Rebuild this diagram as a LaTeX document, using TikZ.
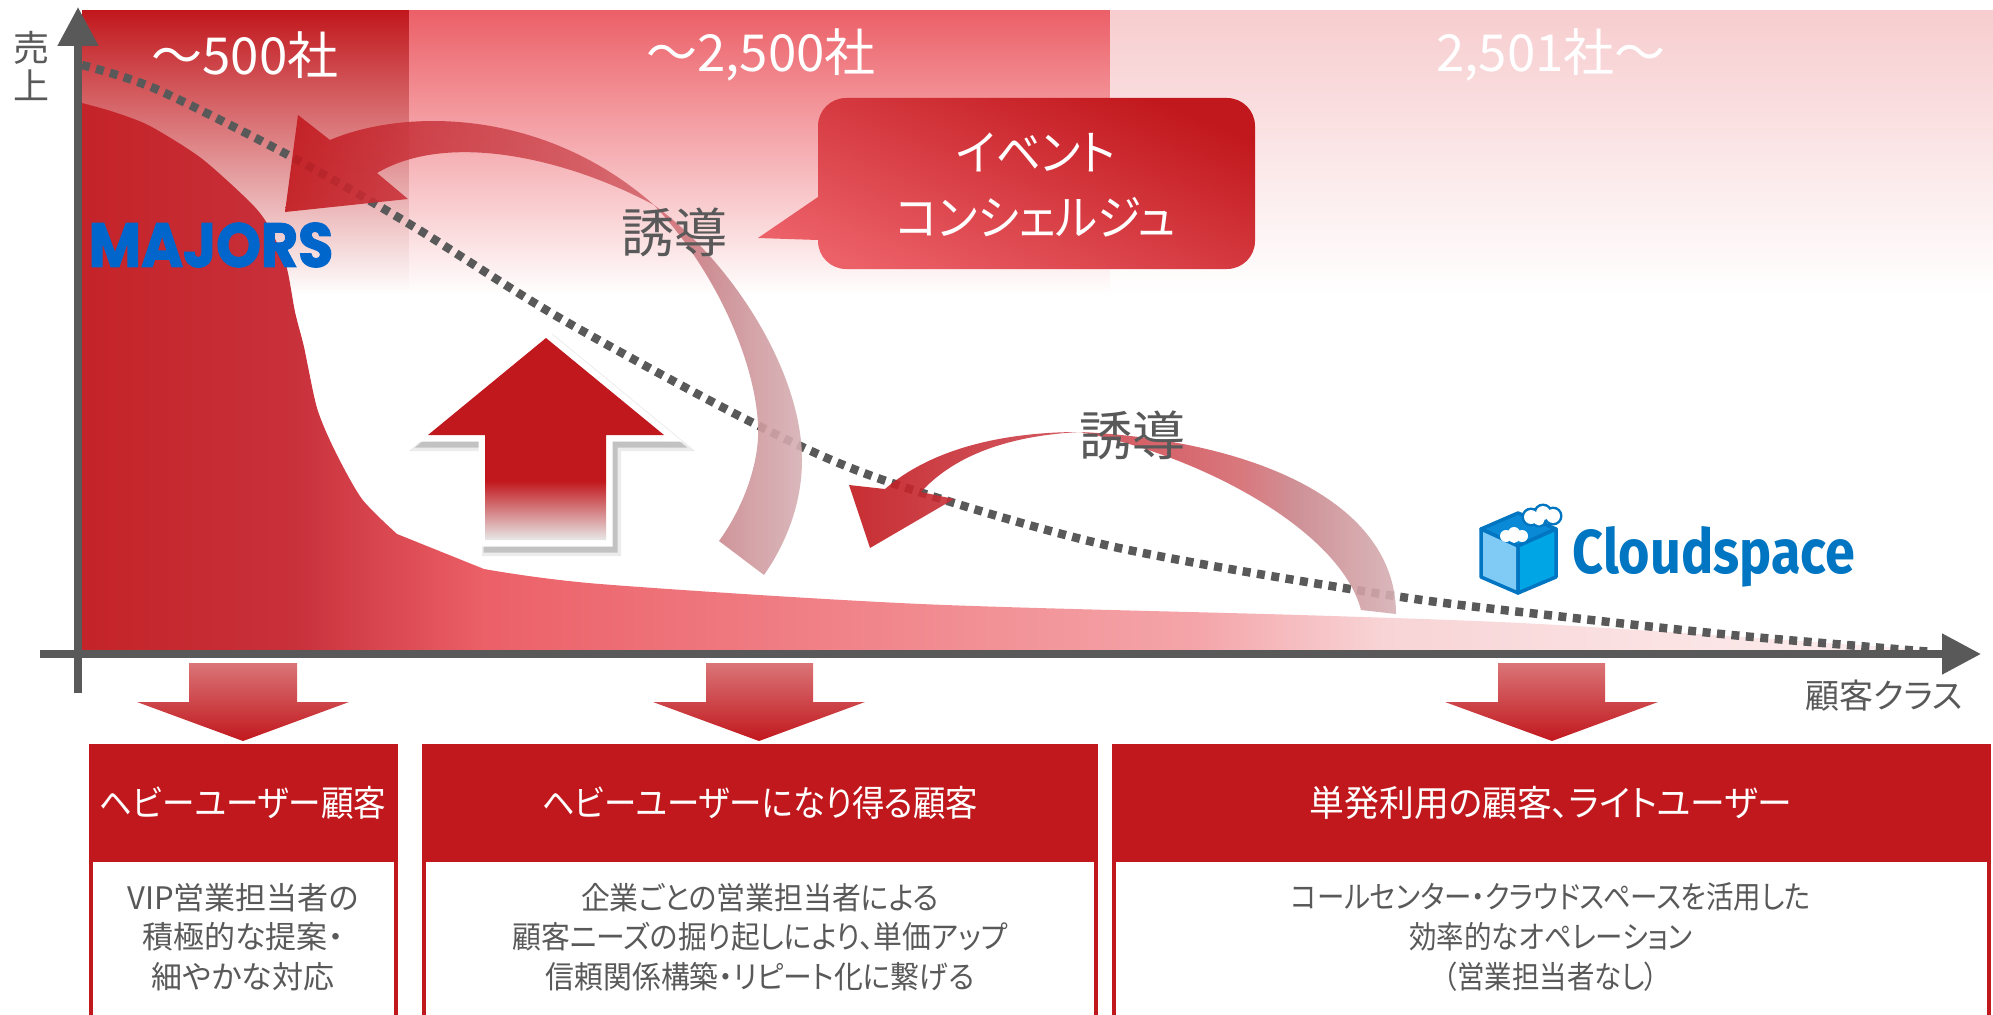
\documentclass[tikz,border=0pt]{standalone}
\usepackage{graphicx}
\usepackage{fontspec}
\setmainfont[RawFeature=+palt]{Noto Sans CJK JP}
\newfontfamily\majorsfont[BoldFeatures={FakeBold=2}]{Poppins}
\newfontfamily\cloudfont{Fira Sans}
\usetikzlibrary{arrows.meta}

\definecolor{darkred}{HTML}{C1181D}
\definecolor{midred}{HTML}{EC6068}
\definecolor{palered}{HTML}{F7CDCF}
\definecolor{axisgray}{HTML}{595959}
\definecolor{majorblue}{HTML}{0066CC}
\definecolor{cloudblue}{HTML}{0075C2}
\definecolor{cubetop}{HTML}{0A8AD6}
\definecolor{cubeleft}{HTML}{80CBF5}
\definecolor{cuberight}{HTML}{00A5E5}
\definecolor{areaA}{HTML}{C8303A}
\definecolor{areaB}{HTML}{F4A5A9}
\definecolor{areaC}{HTML}{F8D4D6}
\definecolor{areaD}{HTML}{FBE3E4}
\definecolor{areaE}{HTML}{FDF0F0}
\definecolor{curveA}{HTML}{CB3A42}
\definecolor{curveB}{HTML}{D2575E}
\definecolor{curveC}{HTML}{D46A70}
\definecolor{curveD}{HTML}{C9868C}
\definecolor{curveE}{HTML}{D6B0B4}
\definecolor{upfade}{HTML}{E8E8E8}

\pgfdeclarehorizontalshading{areashade}{100bp}{color(0bp)=(darkred!95!white); color(25bp)=(darkred!95!white);
  color(30.7bp)=(areaA); color(35.8bp)=(midred); color(55bp)=(areaB); color(60bp)=(areaC);
  color(68bp)=(areaD); color(75bp)=(areaE); color(100bp)=(areaE)}
\pgfdeclarehorizontalshading{curveshade}{100bp}{color(0bp)=(darkred); color(25bp)=(darkred);
  color(39bp)=(curveA); color(55bp)=(curveB); color(61bp)=(curveC); color(66bp)=(curveD);
  color(75bp)=(curveE); color(100bp)=(curveE)}
\pgfdeclareverticalshading{upshade}{100bp}{color(0bp)=(upfade); color(25bp)=(upfade);
  color(39.6bp)=(darkred); color(100bp)=(darkred)}

\begin{document}
\begin{tikzpicture}[x=1pt,y=-1pt,
  every node/.style = {inner sep=0pt, outer sep=0pt, align=center},
  axisline/.style = {draw=axisgray, line width=8pt, -{Triangle[length=39pt,width=39pt]}},
  salesline/.style = {draw=axisgray, line width=8.5pt, dash pattern=on 8pt off 6.5pt},
  curvearrow/.style = {shading=curveshade, fill opacity=.9},
  downarrow/.style = {top color=darkred!60!white, bottom color=darkred},
  uppath/.style = {line join=miter},
  cubeface/.style = {draw=cloudblue, line width=3.5pt, line join=round},
  bandlabel/.style = {text=white, font=\fontsize{51}{56}\selectfont},
  leadlabel/.style = {text=axisgray, font=\fontsize{53}{56}\selectfont},
  axislabel/.style = {text=axisgray, font=\fontsize{34}{38}\selectfont},
  headbox/.style = {fill=darkred, text=white, minimum height=118pt, anchor=north,
    font=\fontsize{36}{40}\selectfont},
  bodybox/.style = {draw=darkred, line width=4pt, fill=white, anchor=north},
  bodytext/.style = {text=axisgray, transform shape, font=\fontsize{31}{39.7}\selectfont}]
  \useasboundingbox (0,0) rectangle (1993,1014);

  % bands
  \shade[top color=darkred, bottom color=white] (82,11) rectangle (409,295);
  \shade[top color=midred, bottom color=white] (409,11) rectangle (1110,295);
  \shade[top color=palered, bottom color=white] (1110,11) rectangle (1993,295);

  % sales area
  \shade[shading=areashade] (82,651) -- (82,103) -- plot[smooth, tension=.45] coordinates {(82,103) (114,112) (150,126)
    (201,158) (250,202) (268,225) (286,265) (295,312) (304,347) (317,408) (335,451) (362,499) (397,534)}
    -- (484,569) -- plot[smooth, tension=.5] coordinates {(484,569) (600,584) (921,604) (1300,615) (1521,623) (1742,637) (1941,651)}
    -- cycle;

  \coordinate (salesStart) at (82,65);
  \coordinate (salesEnd) at (1933,652);
  \draw[salesline] plot[smooth, tension=.5] coordinates {(salesStart) (156,89) (290,156) (411,225) (558,317) (753,423)
    (886,481) (1110,546) (1388,595) (1565,617) (1742,636) (salesEnd)};

  % up arrow
  \fill[black!30, opacity=.25, draw=black!30, uppath, line width=18pt, shift={(6,7)}]
    (546,338) -- (664,435) -- (606,435) -- (606,540) -- (485,540) -- (485,435) -- (428,435) -- cycle;
  \fill[black!40, opacity=.5, draw=black!40, uppath, line width=13pt, shift={(5,6)}]
    (546,338) -- (664,435) -- (606,435) -- (606,540) -- (485,540) -- (485,435) -- (428,435) -- cycle;
  \fill[white, draw=white, uppath, line width=13pt]
    (546,338) -- (664,435) -- (606,435) -- (606,540) -- (485,540) -- (485,435) -- (428,435) -- cycle;
  \shade[shading=upshade]
    (546,338) -- (664,435) -- (606,435) -- (606,540) -- (485,540) -- (485,435) -- (428,435) -- cycle;

  % curved arrows
  \shade[curvearrow] (285,212) -- (298,115) -- (330,140)
    .. controls (400,110) and (540,105) .. (654,205)
    .. controls (730,260) and (802,370) .. (802,460)
    .. controls (802,505) and (785,545) .. (764,575)
    -- (719,541)
    .. controls (745,505) and (760,460) .. (758,425)
    .. controls (755,360) and (715,270) .. (654,205)
    .. controls (570,160) and (450,130) .. (377,173)
    -- (408,199) -- cycle;
  \shade[curvearrow] (870,548) -- (849,485) -- (885,489)
    .. controls (930,450) and (1000,432) .. (1080,432)
    .. controls (1250,440) and (1396,500) .. (1396,614)
    -- (1361,610)
    .. controls (1340,530) and (1200,455) .. (1080,432)
    .. controls (1000,436) and (950,460) .. (921,492)
    -- (954,499) -- cycle;

  % callout
  \shade[top color=darkred, bottom color=midred, shading angle=-22]
    (758,238) -- (818,240) [rounded corners=28pt] -- (818,269) -- (1255,269) -- (1255,98) -- (818,98) [sharp corners] -- (818,197) -- cycle;
  \node[text=white, xscale=.93, transform shape, font=\fontsize{48}{65}\selectfont] (concierge) at (1036,185) {イベント\\コンシェルジュ};

  % logos
  \node[text=majorblue, font=\majorsfont\bfseries\fontsize{62}{66}\selectfont, xscale=.92, transform shape] (majors) at (211,245) {MAJORS};
  \filldraw[cubeface, fill=cubetop] (1481,529) -- (1518,513) -- (1556,529) -- (1518,546) -- cycle;
  \filldraw[cubeface, fill=cubeleft] (1481,529) -- (1518,546) -- (1518,593) -- (1481,577) -- cycle;
  \filldraw[cubeface, fill=cuberight] (1556,529) -- (1518,546) -- (1518,593) -- (1556,577) -- cycle;
  \fill[cloudblue] (1531,517) circle (9.5) (1543,513) circle (9.5) (1553,516) circle (9.5) (1539,520) circle (7.5);
  \fill[white] (1531,517) circle (7) (1543,513) circle (7) (1553,516) circle (7) (1539,520) circle (5.5);
  \fill[white] (1506,536) circle (6) (1514,533) circle (6) (1522,536) circle (6) (1514,538) circle (5);
  \node[text=cloudblue, font=\cloudfont\bfseries\fontsize{62}{66}\selectfont, xscale=.87, transform shape] (cloudspace) at (1714,557) {Cloudspace};

  % axes
  \coordinate (xStart) at (40,654);
  \coordinate (xEnd) at (1981,654);
  \coordinate (yStart) at (78,693);
  \coordinate (yEnd) at (78,7);
  \draw[axisline] (yStart) -- (yEnd);
  \draw[axisline] (xStart) -- (xEnd);

  % labels
  \node[axislabel, font=\fontsize{36}{38}\selectfont] (sales) at (31,66) {売\\上};
  \node[axislabel] (custclass) at (1884,696) {顧客クラス};
  \node[bandlabel] (bandA) at (245,55) {～500社};
  \node[bandlabel] (bandB) at (761,55) {～2,500社};
  \node[bandlabel] (bandC) at (1551,55) {2,501社～};
  \node[leadlabel] (leadA) at (674,232) {誘導};
  \node[leadlabel] (leadB) at (1132,435) {誘導};

  % down arrows
  \shade[downarrow] (189,663) -- (297,663) -- (297,702) -- (349,702) -- (243,741) -- (137,702) -- (189,702) -- cycle;
  \shade[downarrow] (706,663) -- (813,663) -- (813,702) -- (865,702) -- (759,741) -- (653,702) -- (706,702) -- cycle;
  \shade[downarrow] (1498,663) -- (1605,663) -- (1605,702) -- (1658,702) -- (1552,741) -- (1445,702) -- (1498,702) -- cycle;

  % boxes
  \node[bodybox, minimum width=305pt, minimum height=170pt] (bodyA) at (243,860) {};
  \node[bodybox, minimum width=672pt, minimum height=170pt] (bodyB) at (760,860) {};
  \node[bodybox, minimum width=875pt, minimum height=170pt] (bodyC) at (1551,860) {};
  \node[headbox, minimum width=309pt] (headA) at (243,744) {\scalebox{.905}[1]{ヘビーユーザー顧客}};
  \node[headbox, minimum width=676pt] (headB) at (760,744) {\scalebox{.9}[1]{ヘビーユーザーになり得る顧客}};
  \node[headbox, minimum width=879pt] (headC) at (1551,744) {\scalebox{.967}[1]{単発利用の顧客、ライトユーザー}};
  \node[bodytext, xscale=1] (textA) at (243,937) {VIP営業担当者の\\積極的な提案・\\細やかな対応};
  \node[bodytext, xscale=.93] (textB) at (760,937) {企業ごとの営業担当者による\\顧客ニーズの掘り起しにより、単価アップ\\信頼関係構築・リピート化に繋げる};
  \node[bodytext, xscale=.885] (textC) at (1551,937) {コールセンター・クラウドスペースを活用した\\効率的なオペレーション\\（営業担当者なし）};
\end{tikzpicture}
\end{document}
